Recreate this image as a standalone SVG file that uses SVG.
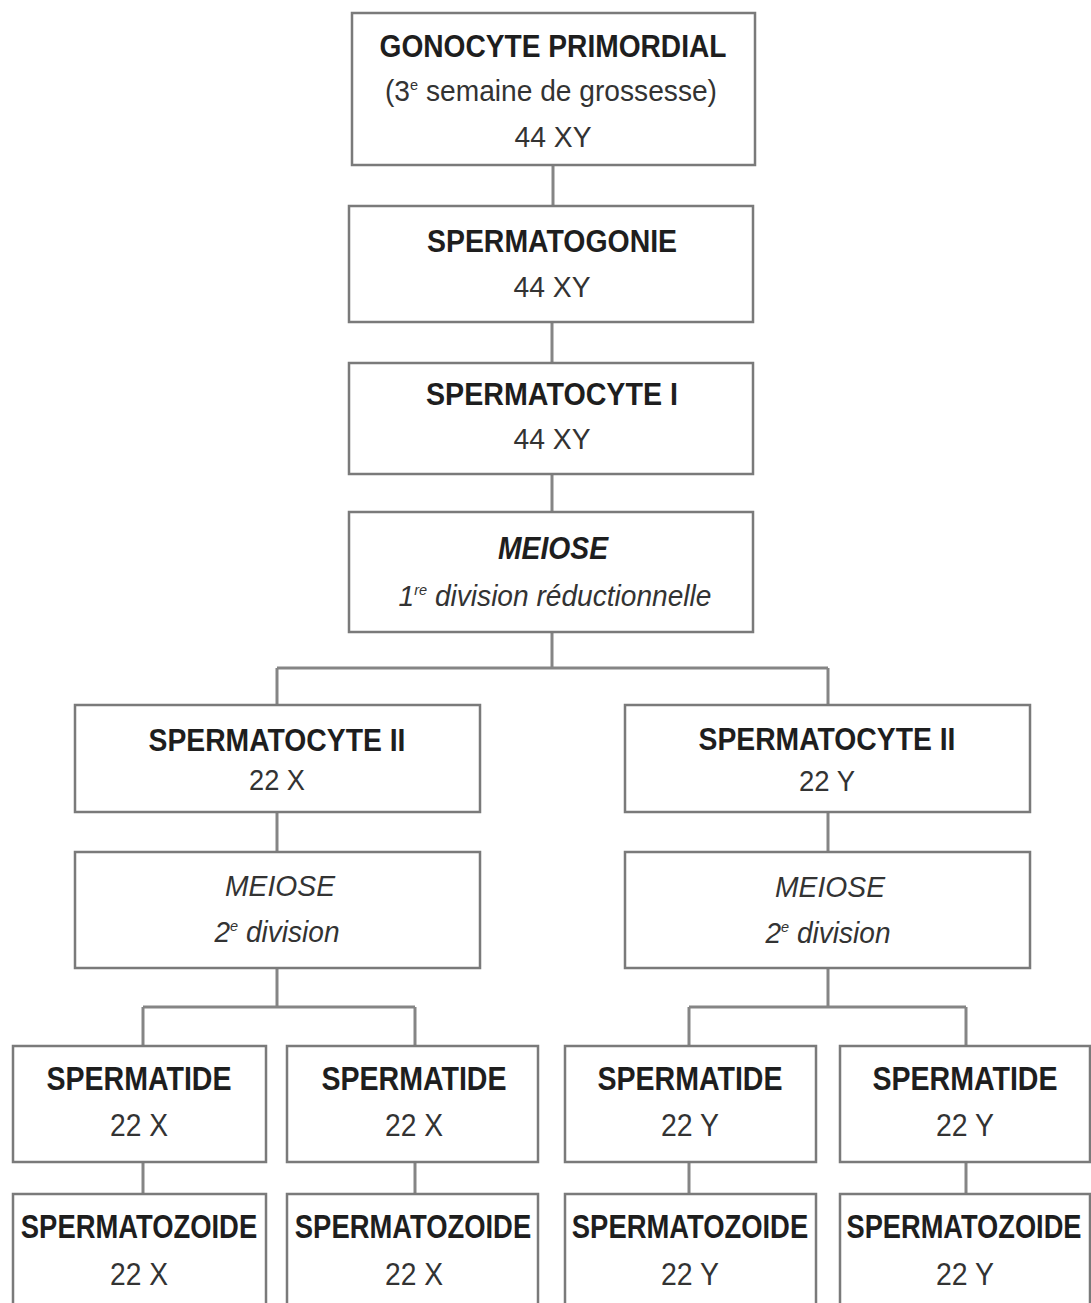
<svg xmlns="http://www.w3.org/2000/svg" width="1091" height="1303" viewBox="0 0 1091 1303">
<style>
.box{fill:#fff;stroke:#7a7a7a;stroke-width:2.5}
.con{stroke:#858585;stroke-width:3;fill:none}
text{font-family:"Liberation Sans",Arial,sans-serif;text-anchor:middle;fill:#2a2a2a}
.t{font-weight:bold;font-size:31px;fill:#1e1e1e}
.n{font-size:29px;fill:#333}
.tb{font-weight:bold;font-size:33px;fill:#1e1e1e}
.nb{font-size:31px;fill:#333}
.bi{font-weight:bold;font-style:italic;font-size:31px;fill:#1e1e1e}
.i{font-style:italic;font-size:29px;fill:#333}
.sup{font-size:15px}
</style>
<rect width="1091" height="1303" fill="#fff"/>
<g id="connectors">
<path class="con" d="M553 165V206M552 322V363M552 474V512M552 632V668M277 668H828M277 668V705M828 668V705M277 812V852M828 812V852M277 968V1007M143 1007H415M143 1007V1046M415 1007V1046M828 968V1007M689 1007H966M689 1007V1046M966 1007V1046M143 1162V1194M415 1162V1194M689 1162V1194M966 1162V1194"/>
</g>
<g id="gonocyte">
<rect class="box" x="352" y="13" width="403" height="152"/>
<text class="t" x="553" y="57" textLength="347" lengthAdjust="spacingAndGlyphs">GONOCYTE PRIMORDIAL</text>
<text class="n" x="551" y="101" textLength="332" lengthAdjust="spacingAndGlyphs">(3<tspan class="sup" dy="-11">e</tspan><tspan dy="11"> semaine de grossesse)</tspan></text>
<text class="n" x="553" y="147" textLength="77" lengthAdjust="spacingAndGlyphs">44 XY</text>
</g>
<g id="spermatogonie">
<rect class="box" x="349" y="206" width="404" height="116"/>
<text class="t" x="552" y="252" textLength="250" lengthAdjust="spacingAndGlyphs">SPERMATOGONIE</text>
<text class="n" x="552" y="297" textLength="77" lengthAdjust="spacingAndGlyphs">44 XY</text>
</g>
<g id="spermatocyte1">
<rect class="box" x="349" y="363" width="404" height="111"/>
<text class="t" x="552" y="405" textLength="252" lengthAdjust="spacingAndGlyphs">SPERMATOCYTE I</text>
<text class="n" x="552" y="449" textLength="77" lengthAdjust="spacingAndGlyphs">44 XY</text>
</g>
<g id="meiose1">
<rect class="box" x="349" y="512" width="404" height="120"/>
<text class="bi" x="553" y="559" textLength="110" lengthAdjust="spacingAndGlyphs">MEIOSE</text>
<text class="i" x="555" y="606" textLength="313" lengthAdjust="spacingAndGlyphs">1<tspan class="sup" dy="-11">re</tspan><tspan dy="11"> division réductionnelle</tspan></text>
</g>
<g id="spermatocyte2x">
<rect class="box" x="75" y="705" width="405" height="107"/>
<text class="t" x="277" y="751" textLength="257" lengthAdjust="spacingAndGlyphs">SPERMATOCYTE II</text>
<text class="n" x="277" y="790" textLength="56" lengthAdjust="spacingAndGlyphs">22 X</text>
</g>
<g id="spermatocyte2y">
<rect class="box" x="625" y="705" width="405" height="107"/>
<text class="t" x="827" y="750" textLength="257" lengthAdjust="spacingAndGlyphs">SPERMATOCYTE II</text>
<text class="n" x="827" y="791" textLength="56" lengthAdjust="spacingAndGlyphs">22 Y</text>
</g>
<g id="meiose2x">
<rect class="box" x="75" y="852" width="405" height="116"/>
<text class="i" x="280" y="896" textLength="110" lengthAdjust="spacingAndGlyphs">MEIOSE</text>
<text class="i" x="277" y="942" textLength="125" lengthAdjust="spacingAndGlyphs">2<tspan class="sup" dy="-11">e</tspan><tspan dy="11"> division</tspan></text>
</g>
<g id="meiose2y">
<rect class="box" x="625" y="852" width="405" height="116"/>
<text class="i" x="830" y="897" textLength="110" lengthAdjust="spacingAndGlyphs">MEIOSE</text>
<text class="i" x="828" y="943" textLength="125" lengthAdjust="spacingAndGlyphs">2<tspan class="sup" dy="-11">e</tspan><tspan dy="11"> division</tspan></text>
</g>
<g id="spermatide1">
<rect class="box" x="13" y="1046" width="253" height="116"/>
<text class="tb" x="139" y="1090" textLength="185" lengthAdjust="spacingAndGlyphs">SPERMATIDE</text>
<text class="nb" x="139" y="1136" textLength="58" lengthAdjust="spacingAndGlyphs">22 X</text>
</g>
<g id="spermatide2">
<rect class="box" x="287" y="1046" width="251" height="116"/>
<text class="tb" x="414" y="1090" textLength="185" lengthAdjust="spacingAndGlyphs">SPERMATIDE</text>
<text class="nb" x="414" y="1136" textLength="58" lengthAdjust="spacingAndGlyphs">22 X</text>
</g>
<g id="spermatide3">
<rect class="box" x="565" y="1046" width="251" height="116"/>
<text class="tb" x="690" y="1090" textLength="185" lengthAdjust="spacingAndGlyphs">SPERMATIDE</text>
<text class="nb" x="690" y="1136" textLength="58" lengthAdjust="spacingAndGlyphs">22 Y</text>
</g>
<g id="spermatide4">
<rect class="box" x="840" y="1046" width="250" height="116"/>
<text class="tb" x="965" y="1090" textLength="185" lengthAdjust="spacingAndGlyphs">SPERMATIDE</text>
<text class="nb" x="965" y="1136" textLength="58" lengthAdjust="spacingAndGlyphs">22 Y</text>
</g>
<g id="spermatozoide1">
<rect class="box" x="13" y="1194" width="253" height="130"/>
<text class="tb" transform="translate(139 1238) scale(0.83 1)">SPERMATOZOIDE</text>
<text class="nb" x="139" y="1285" textLength="58" lengthAdjust="spacingAndGlyphs">22 X</text>
</g>
<g id="spermatozoide2">
<rect class="box" x="287" y="1194" width="251" height="130"/>
<text class="tb" transform="translate(413 1238) scale(0.83 1)">SPERMATOZOIDE</text>
<text class="nb" x="414" y="1285" textLength="58" lengthAdjust="spacingAndGlyphs">22 X</text>
</g>
<g id="spermatozoide3">
<rect class="box" x="565" y="1194" width="251" height="130"/>
<text class="tb" transform="translate(690 1238) scale(0.83 1)">SPERMATOZOIDE</text>
<text class="nb" x="690" y="1285" textLength="58" lengthAdjust="spacingAndGlyphs">22 Y</text>
</g>
<g id="spermatozoide4">
<rect class="box" x="840" y="1194" width="250" height="130"/>
<text class="tb" transform="translate(964 1238) scale(0.825 1)">SPERMATOZOIDE</text>
<text class="nb" x="965" y="1285" textLength="58" lengthAdjust="spacingAndGlyphs">22 Y</text>
</g>
</svg>
